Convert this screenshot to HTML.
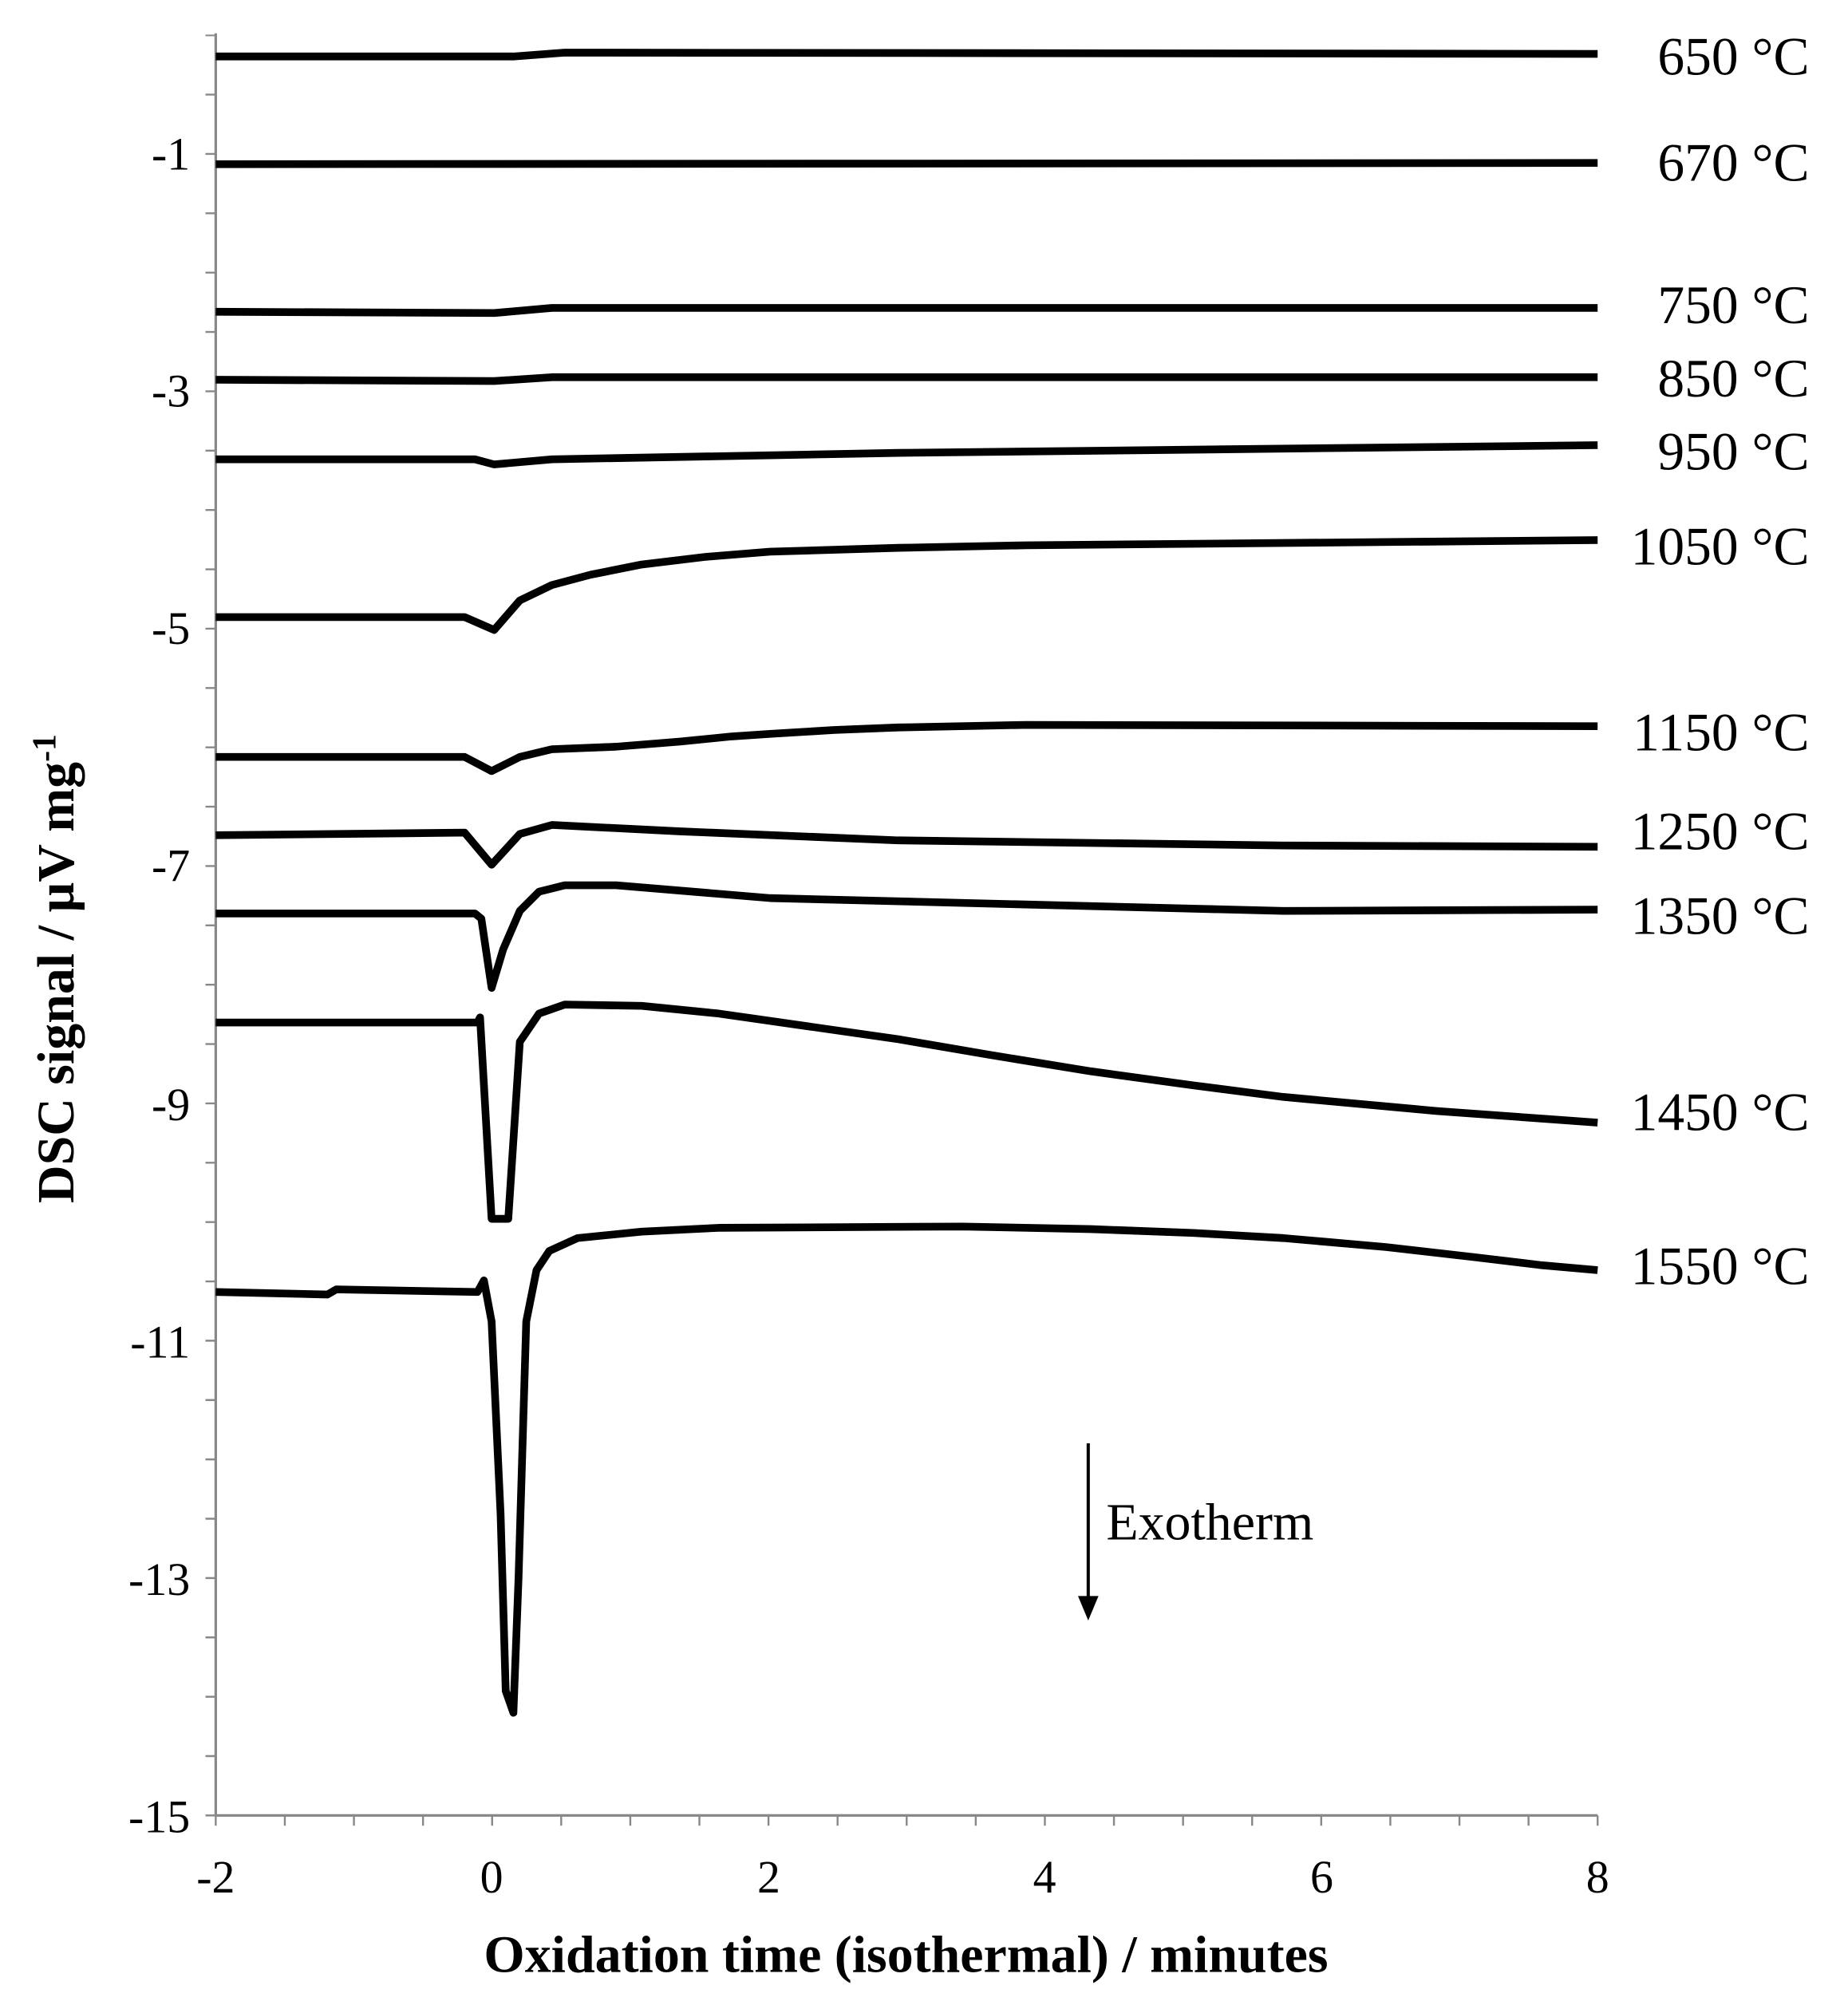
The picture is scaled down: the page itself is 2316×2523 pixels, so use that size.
<!DOCTYPE html>
<html><head><meta charset="utf-8"><style>
html,body{margin:0;padding:0;background:#fff;}
svg{display:block;}
text{font-family:"Liberation Serif",serif;fill:#000;}
</style></head><body>
<svg width="2316" height="2523" viewBox="0 0 1440 1569" xmlns="http://www.w3.org/2000/svg">
<g stroke="#888" stroke-width="2" fill="none">
<line x1="168" y1="26" x2="168" y2="1415"/>
<line x1="168" y1="1415" x2="1245" y2="1415"/>
</g>
<line x1="164" y1="1415.75" x2="164" y2="27" stroke="#888" stroke-width="8" stroke-dasharray="1.5 44.75"/>
<line x1="167.25" y1="1419" x2="1247" y2="1419" stroke="#888" stroke-width="8" stroke-dasharray="1.5 52.35"/>
<g font-size="36" text-anchor="end">
<text x="148" y="132">-1</text><text x="148" y="317">-3</text><text x="148" y="502">-5</text>
<text x="148" y="687">-7</text><text x="148" y="873">-9</text><text x="148" y="1058">-11</text>
<text x="148" y="1243">-13</text><text x="148" y="1428">-15</text>
</g>
<g font-size="36" text-anchor="middle">
<text x="168" y="1475">-2</text><text x="383" y="1475">0</text><text x="599" y="1475">2</text>
<text x="814" y="1475">4</text><text x="1030" y="1475">6</text><text x="1245" y="1475">8</text>
</g>
<text x="706" y="1537" font-size="41" font-weight="bold" text-anchor="middle">Oxidation time (isothermal) / minutes</text>
<text transform="translate(57,755) rotate(-90)" font-size="41" font-weight="bold" text-anchor="middle">DSC signal  / µV mg<tspan font-size="26" dy="-14">-1</tspan></text>
<g fill="none" stroke="#000" stroke-width="6" stroke-linejoin="round">
<path d="M168,44 L400,44 L440,41 L1245,42"/>
<path d="M168,128 L1245,127"/>
<path d="M168,243 L385,244 L430,240 L1245,240"/>
<path d="M168,296 L385,297 L430,294 L1245,294"/>
<path d="M168,358 L370,358 L385,362 L430,358 L700,353 L1245,347"/>
<path d="M168,481 L362,481 L385,491 L405,468 L430,456 L460,448 L500,440 L550,434 L600,430 L700,427 L800,425 L1245,421"/>
<path d="M168,590 L362,590 L383,601 L405,590 L430,584 L480,582 L530,578 L570,574 L600,572 L650,569 L700,567 L800,565 L1245,566"/>
<path d="M168,651 L362,649 L383,674 L405,650 L430,643 L530,648 L700,655 L1000,659 L1245,660"/>
<path d="M168,712 L370,712 L375,716 L383,770 L392,740 L405,710 L420,695 L440,690 L480,690 L600,700 L1000,710 L1245,709"/>
<path d="M168,797 L372,797 L374,793 L383,950 L396,950 L405,812 L420,790 L440,783 L500,784 L560,790 L630,800 L700,810 L770,822 L850,835 L930,846 L1000,855 L1120,866 L1245,875"/>
<path d="M168,1007 L255,1009 L262,1005 L372,1007 L377,998 L383,1030 L390,1180 L394,1318 L400,1335 L404,1230 L410,1030 L418,990 L428,975 L450,965 L500,960 L560,957 L750,956 L850,958 L930,961 L1000,965 L1080,972 L1150,980 L1200,986 L1245,990"/>
</g>
<g font-size="42" text-anchor="end">
<text x="1410" y="58">650 °C</text><text x="1410" y="141">670 °C</text>
<text x="1410" y="252">750 °C</text><text x="1410" y="309">850 °C</text>
<text x="1410" y="366">950 °C</text><text x="1410" y="440">1050 °C</text>
<text x="1410" y="585">1150 °C</text><text x="1410" y="662">1250 °C</text>
<text x="1410" y="728">1350 °C</text><text x="1410" y="881">1450 °C</text>
<text x="1410" y="1001">1550 °C</text>
</g>
<line x1="848" y1="1125" x2="848" y2="1250" stroke="#000" stroke-width="2.5"/>
<path d="M840,1244 L848,1263 L856,1244 Z" fill="#000"/>
<text x="862" y="1200" font-size="41">Exotherm</text>
</svg>
</body></html>
